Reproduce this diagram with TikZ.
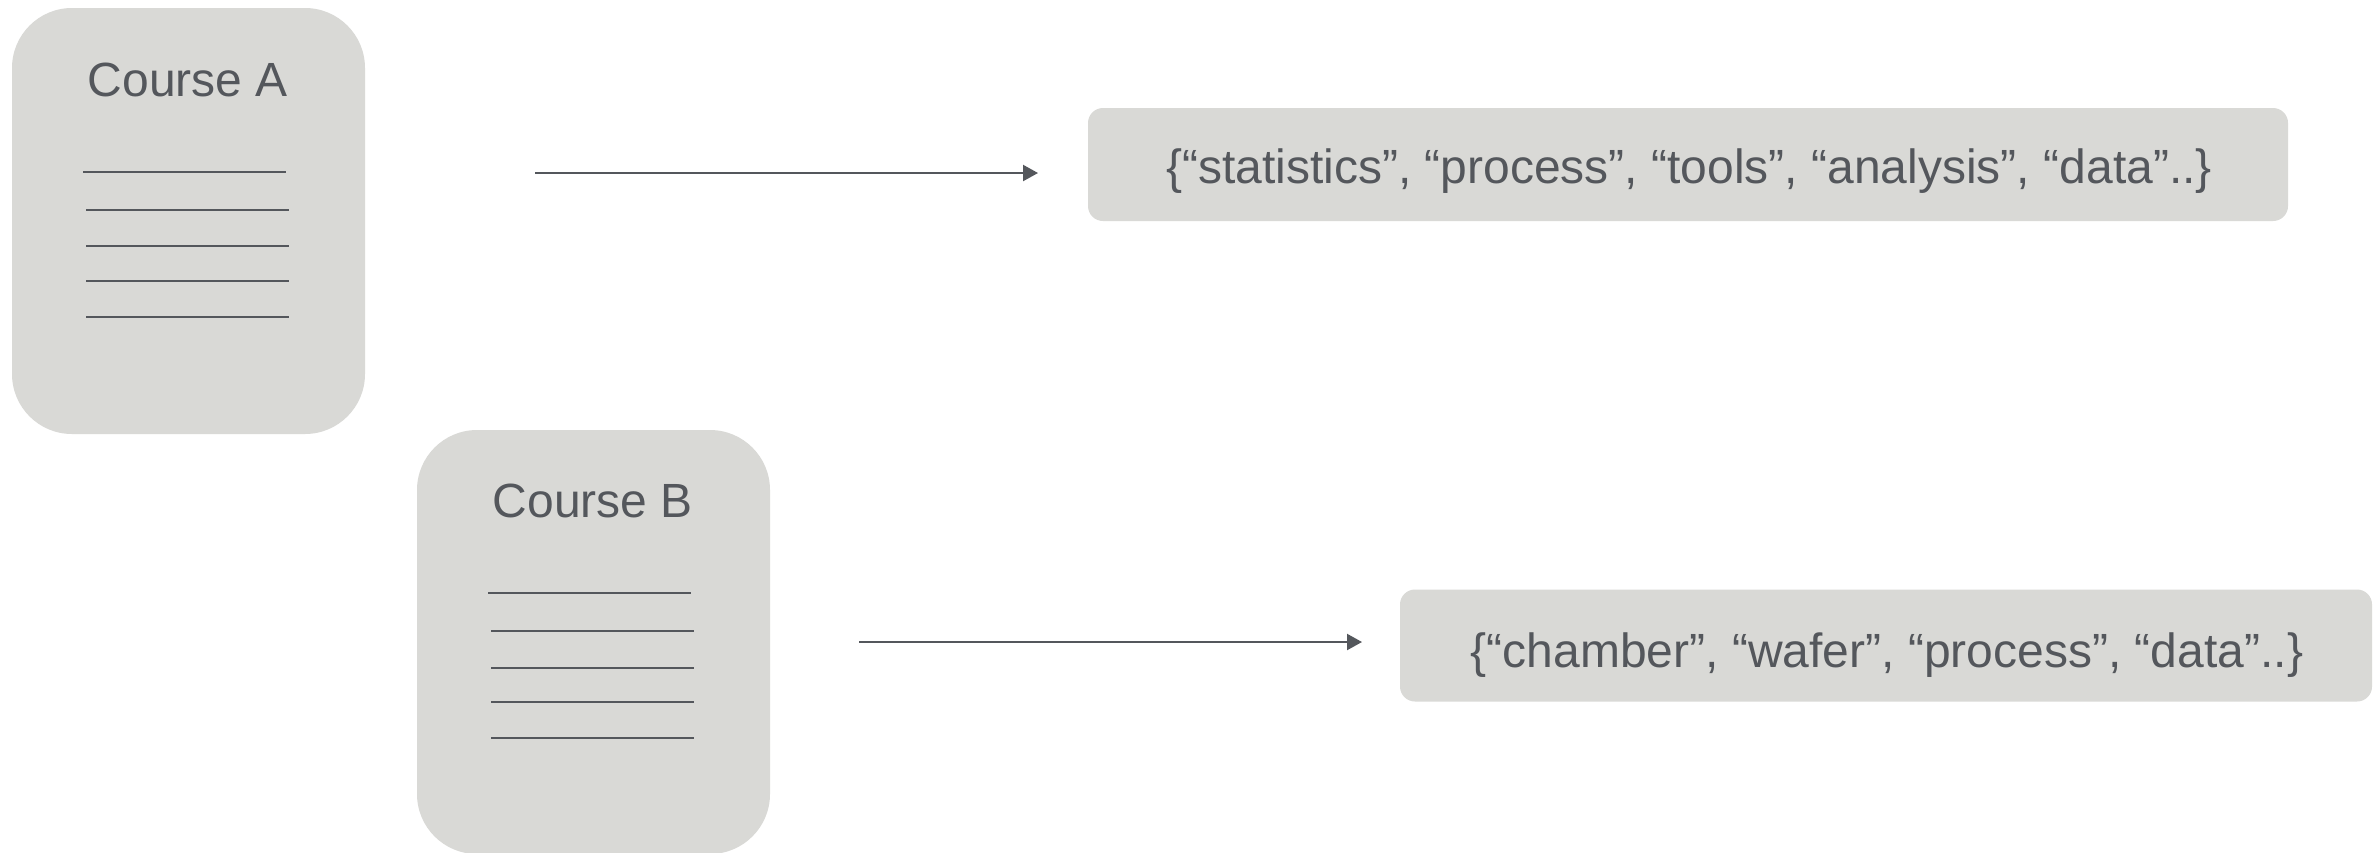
\documentclass[tikz,border=0pt]{standalone}
\usepackage{fontspec}
\setmainfont{Liberation Sans}
\usetikzlibrary{arrows.meta}
\definecolor{panel}{RGB}{217,217,214}
\definecolor{ink}{RGB}{84,87,92}
\begin{document}
\begin{tikzpicture}[x=1pt,y=-1pt,
  docbox/.style={fill=panel, draw=none, rounded corners=60pt, inner sep=0pt},
  setbox/.style={fill=panel, draw=none, rounded corners=15pt, inner sep=0pt},
  title/.style={text=ink, anchor=base, inner sep=0pt, font=\fontsize{48}{58}\selectfont},
  settext/.style={text=ink, anchor=base, inner sep=0pt, font=\fontsize{48}{58}\selectfont},
  rule/.style={draw=ink, line width=2.2pt},
  flow/.style={draw=ink, line width=2.2pt, -{Triangle[length=15pt,width=16pt]}}]
\useasboundingbox (0,0) rectangle (2376,852);
\fill[white] (0,0) rectangle (2376,852);

% document cards
\node[docbox, minimum width=353pt, minimum height=426pt] (docA) at (188.5,221) {};
\node[docbox, minimum width=353pt, minimum height=424pt] (docB) at (593.5,642) {};
\node[title] (titleA) at (188,96) {Course A};
\node[title] (titleB) at (593,517) {Course B};

% text lines on the cards
\draw[rule] (83,172) -- (286,172);
\foreach \y in {210,246,281,317} \draw[rule] (86,\y) -- (289,\y);
\draw[rule] (488,593) -- (691,593);
\foreach \y in {631,668,702,738} \draw[rule] (491,\y) -- (694,\y);

% keyword sets
\node[setbox, minimum width=1200pt, minimum height=113pt] (setA) at (1688,164.5) {};
\node[setbox, minimum width=972pt, minimum height=112pt] (setB) at (1886,645.5) {};
\node[settext] (wordsA) at (1689,183) {\{“statistics”, “process”, “tools”, “analysis”, “data”..\}};
\node[settext] (wordsB) at (1887,667) {\{“chamber”, “wafer”, “process”, “data”..\}};

% arrows
\coordinate (a1s) at (535,173);
\coordinate (a1e) at (1038,173);
\coordinate (a2s) at (859,642);
\coordinate (a2e) at (1362,642);
\draw[flow] (a1s) -- (a1e);
\draw[flow] (a2s) -- (a2e);
\end{tikzpicture}
\end{document}
